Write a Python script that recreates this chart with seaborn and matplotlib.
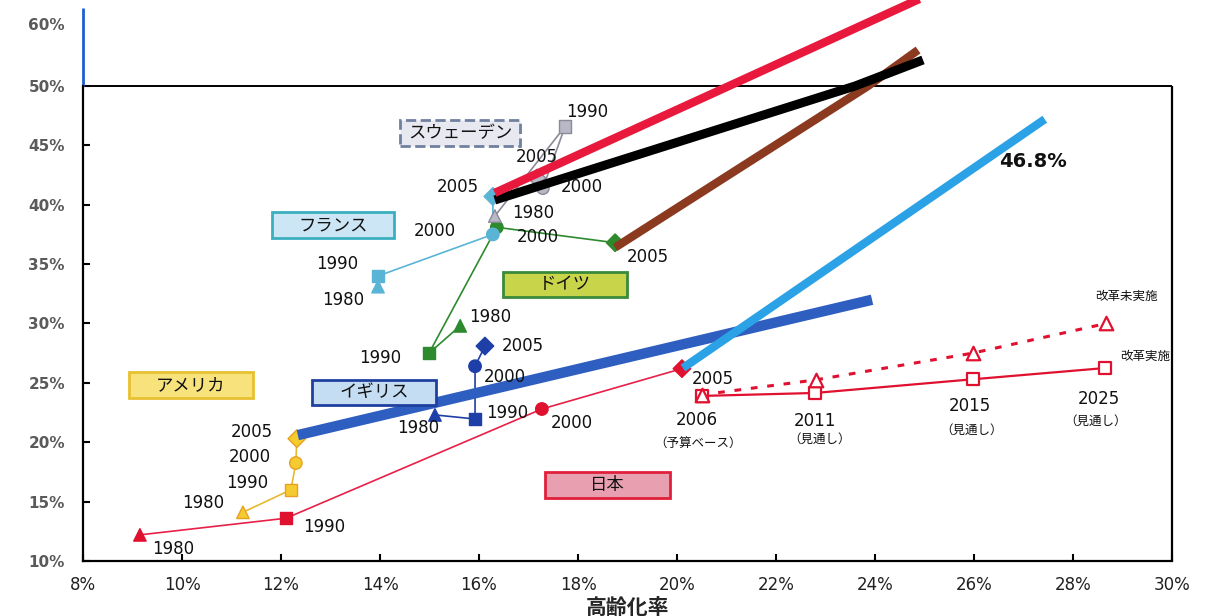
import numpy as np
import pandas as pd
import matplotlib
matplotlib.use("Agg")
import matplotlib.pyplot as plt
import seaborn as sns
from matplotlib.patches import Rectangle

# ---------------- data ----------------
years = [1980, 1990, 2000, 2005]

japan_x = [9.15, 12.10, 17.27, 20.10]
japan_y = [12.2, 13.6, 22.8, 26.2]
usa_x = [11.23, 12.20, 12.30, 12.32]
usa_y = [14.1, 16.0, 18.25, 20.3]
uk_x = [15.11, 15.92, 15.92, 16.12]
uk_y = [22.3, 21.96, 26.4, 28.1]
germany_x = [15.62, 14.99, 16.36, 18.75]
germany_y = [29.8, 27.5, 38.1, 36.8]
france_x = [13.96, 13.96, 16.28, 16.28]
france_y = [33.1, 34.0, 37.5, 40.7]
sweden_x = [16.32, 17.74, 17.29, 17.17]
sweden_y = [39.05, 46.6, 41.4, 42.25]

future_years = [2006, 2011, 2015, 2025]
jp_reform_x = [20.50, 22.79, 25.97, 28.65]
jp_reform_y = [23.9, 24.15, 25.3, 26.25]
jp_noreform_x = [20.50, 22.80, 25.97, 28.67]
jp_noreform_y = [24.0, 25.25, 27.5, 30.0]

# thick trend lines
red_trend_x = [16.32, 21.05, 25.30]
red_trend_y = [41.0, 50.0, 65.5]
black_trend_x = [16.32, 23.60, 24.97]
black_trend_y = [40.4, 50.0, 54.2]
brown_trend_x = [18.75, 23.86, 24.87]
brown_trend_y = [36.4, 50.0, 55.8]
skyblue_trend_x = [20.12, 27.43]
skyblue_trend_y = [26.25, 47.2]
blue_trend_x = [12.34, 23.94]
blue_trend_y = [20.6, 32.0]

x_ticks = [8, 10, 12, 14, 16, 18, 20, 22, 24, 26, 28, 30]
y_ticks = [10, 15, 20, 25, 30, 35, 40, 45, 50]
y_extra_tick = [60]

# ---------------- style ----------------
sns.set_theme(style="white")
plt.rcParams["font.family"] = ["DejaVu Sans", "Noto Sans CJK JP"]

K = 0.522  # compression of the axis above 50%


def fwd(v):
    v = np.asarray(v, dtype=float)
    return np.where(v <= 50, v, 50 + (v - 50) * K)


def inv(v):
    v = np.asarray(v, dtype=float)
    return np.where(v <= 50, v, 50 + (v - 50) / K)


fig = plt.figure(figsize=(12.15, 6.16), dpi=100)
ax = fig.add_axes([83 / 1215, 55 / 616, 1089 / 1215, 561 / 616])
ax.set_yscale("function", functions=(fwd, inv))
ax.set_xlim(8, 30)
ax.set_ylim(10, 63.87)

# ---------------- countries ----------------
countries = {
    "日本": (japan_x, japan_y, "#E82048", "#E0102F", "#E0102F"),
    "アメリカ": (usa_x, usa_y, "#E8B830", "#F5CC30", "#E8A020"),
    "イギリス": (uk_x, uk_y, "#1F3FA8", "#1F3FA8", "#1F3FA8"),
    "ドイツ": (germany_x, germany_y, "#2D8A2D", "#2D8A2D", "#2D8A2D"),
    "フランス": (france_x, france_y, "#5AB4D6", "#5AB4D6", "#5AB4D6"),
    "スウェーデン": (sweden_x, sweden_y, "#8A8A98", "#B8B8C6", "#8A8A98"),
}
marker_map = {1980: "^", 1990: "s", 2000: "o", 2005: "D"}

for name, (xs, ys, lc, fc, ec) in countries.items():
    sub = pd.DataFrame({"x": xs, "y": ys, "year": years})
    sns.lineplot(data=sub, x="x", y="y", sort=False, estimator=None, color=lc,
                 linewidth=1.2, ax=ax, legend=False, zorder=2)
    sns.scatterplot(data=sub, x="x", y="y", style="year", markers=marker_map,
                    style_order=years, s=80, color=fc, edgecolor=ec,
                    linewidth=1, ax=ax, legend=False, zorder=3)

# Japan projections
ref = pd.DataFrame({"x": jp_reform_x, "y": jp_reform_y, "year": future_years})
noref = pd.DataFrame({"x": jp_noreform_x, "y": jp_noreform_y, "year": future_years})
sns.lineplot(data=ref, x="x", y="y", sort=False, estimator=None, color="#E0102F",
             linewidth=1.6, ax=ax, legend=False, zorder=2)
sns.lineplot(data=noref, x="x", y="y", sort=False, estimator=None, color="#E0102F",
             linewidth=2.2, linestyle=(0, (2.2, 3.2)), ax=ax, legend=False, zorder=2)
sns.scatterplot(data=ref, x="x", y="y", marker="s", s=80, color="white",
                edgecolor="#E0102F", linewidth=1.6, ax=ax, legend=False, zorder=3)
sns.scatterplot(data=noref, x="x", y="y", marker="^", s=95, color="white",
                edgecolor="#E0102F", linewidth=1.6, ax=ax, legend=False, zorder=3)

# thick trend lines
trends = [
    (blue_trend_x, blue_trend_y, "#2E5EC0", 7.5),
    (skyblue_trend_x, skyblue_trend_y, "#2CA2E6", 6.0),
    (brown_trend_x, brown_trend_y, "#8B3A20", 6.0),
    (black_trend_x, black_trend_y, "#000000", 6.5),
    (red_trend_x, red_trend_y, "#E8193C", 6.0),
]
for tx, ty, col, lw in trends:
    sns.lineplot(x=tx, y=ty, sort=False, estimator=None, color=col,
                 linewidth=lw, ax=ax, legend=False, zorder=4)
for ln in ax.get_lines()[-5:]:
    ln.set_solid_capstyle("butt")
    ln.set_clip_on(True)

# ---------------- frame & axes ----------------
for side in ["top", "right"]:
    ax.spines[side].set_visible(False)
ax.spines["left"].set_bounds(10, 50)
for side in ["left", "bottom"]:
    ax.spines[side].set_color("black")
    ax.spines[side].set_linewidth(1.6)
ax.hlines(50, 8, 30, color="black", linewidth=1.4, zorder=1)
ax.vlines(30, 10, 50, color="black", linewidth=1.6, zorder=1, clip_on=False)
ax.vlines(8, 50, 62.6, color="#1F5FD0", linewidth=2, zorder=1, clip_on=False)

ax.set_xticks(x_ticks)
ax.set_xticklabels([f"{t}%" for t in x_ticks], fontsize=12, color="#202020")
ax.set_yticks(y_ticks)
ax.set_yticklabels([f"{t}%" for t in y_ticks], fontsize=11, fontweight="bold",
                   color="#5A5A5A")
ax.set_yticks(y_extra_tick, minor=True)
ax.set_yticklabels([f"{t}%" for t in y_extra_tick], minor=True, fontsize=11,
                   fontweight="bold", color="#5A5A5A")
ax.tick_params(axis="both", which="major", direction="in", length=5, width=1.5,
               color="black", left=True, bottom=True)
ax.tick_params(axis="x", pad=11)
ax.tick_params(axis="y", which="both", pad=13)
ax.tick_params(axis="y", which="minor", length=0, left=True)
ax.set_xlabel("高齢化率", fontsize=15, fontweight="bold", labelpad=2,
              family=["Noto Sans CJK JP"])
ax.set_ylabel("")
ax.grid(False)

# ---------------- country boxes ----------------
def label_box(cx, cy, text, fc, ec, w=2.5, h=2.15, ls="-"):
    ax.add_patch(Rectangle((cx - w / 2, cy - h / 2), w, h, facecolor=fc,
                           edgecolor=ec, linewidth=2, linestyle=ls, zorder=5))
    ax.text(cx, cy, text, ha="center", va="center", fontsize=12.5,
            family=["Noto Sans CJK JP"], color="#111111", zorder=6)


label_box(15.62, 46.04, "スウェーデン", "#E8E8F0", "#7080A0", w=2.42, ls="--")
label_box(13.05, 38.3, "フランス", "#CDE6F5", "#3AAFC0", w=2.46)
label_box(17.74, 33.3, "ドイツ", "#C8D44A", "#3A8A3A", w=2.5)
label_box(13.88, 24.2, "イギリス", "#C5DDF2", "#2040A0", w=2.52)
label_box(10.18, 24.8, "アメリカ", "#F7E27C", "#E8C030", w=2.5)
label_box(18.59, 16.4, "日本", "#E8A0B0", "#E0203A", w=2.52)

# ---------------- year labels ----------------
year_labels = [
    (18.18, 47.8, "1990"), (17.17, 44.0, "2005"), (18.08, 41.5, "2000"), (17.09, 39.3, "1980"),
    (13.13, 35.0, "1990"), (13.25, 32.0, "1980"), (15.11, 37.8, "2000"), (15.58, 41.5, "2005"),
    (16.22, 30.55, "1980"), (14.00, 27.1, "1990"), (17.19, 37.3, "2000"), (19.41, 35.6, "2005"),
    (14.77, 21.2, "1980"), (16.57, 22.46, "1990"), (16.53, 25.5, "2000"), (16.89, 28.1, "2005"),
    (11.41, 20.86, "2005"), (11.37, 18.76, "2000"), (11.31, 16.57, "1990"), (10.42, 14.88, "1980"),
    (9.82, 11.0, "1980"), (12.87, 12.86, "1990"), (17.88, 21.6, "2000"), (20.73, 25.3, "2005"),
    (20.40, 21.9, "2006"), (22.79, 21.8, "2011"), (25.92, 23.05, "2015"), (28.53, 23.64, "2025"),
]
for x, y, t in year_labels:
    ax.text(x, y, t, ha="center", va="center", fontsize=12, color="#111111", zorder=6)

small_labels = [
    (20.42, 19.85, "（予算ベース）"), (22.87, 20.27, "（見通し）"),
    (25.96, 21.03, "（見通し）"), (28.46, 21.8, "（見通し）"),
    (29.07, 32.3, "改革未実施"), (29.45, 27.2, "改革実施"),
]
for x, y, t in small_labels:
    ax.text(x, y, t, ha="center", va="center", fontsize=9, color="#111111",
            family=["Noto Sans CJK JP"], zorder=6)

ax.text(27.19, 43.6, "46.8%", ha="center", va="center", fontsize=14,
        fontweight="bold", family=["Liberation Sans Narrow", "DejaVu Sans"],
        color="#111111", zorder=6)

fig.savefig("out.png", dpi=100)
